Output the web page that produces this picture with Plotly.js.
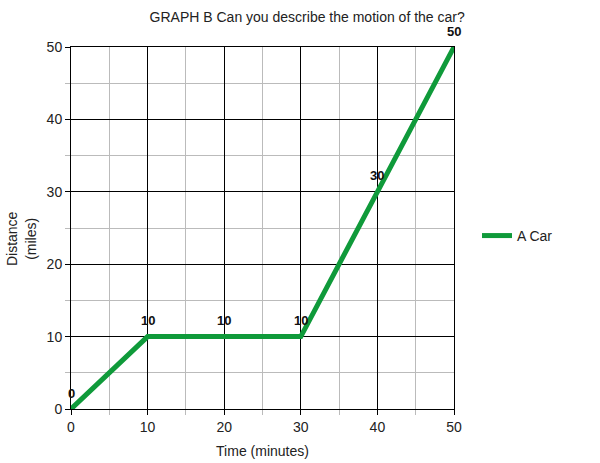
<!DOCTYPE html>
<html>
<head>
<meta charset="utf-8">
<script src="https://cdn.plot.ly/plotly-3.0.1.min.js"></script>
<style>body{margin:0;} #chart{width:600px;height:463px;}</style>
</head>
<body>
<div id="chart"></div>
<script>
// time in minutes and distance in miles for the car
let timeMin = [0, 10, 20, 30, 40, 50];
let distanceMi = [0, 10, 10, 10, 30, 50];
let pointLabels = ["0", "10", "10", "10", "30", "50"];

let fontFam = "Liberation Sans, Arial, sans-serif";

let carTrace = {
    type: "scatter",
    mode: "lines",
    x: timeMin,
    y: distanceMi,
    line: { color: "#0f9a3a", width: 5 },
    name: "A Car"
};

// value labels sit a little above each point
let labelNotes = timeMin.map((t, i) => ({
    x: t,
    y: distanceMi[i],
    text: "<b>" + pointLabels[i] + "</b>",
    showarrow: false,
    yshift: 16,
    font: { size: 13, color: "#111" }
}));

// y axis title placed by hand so it lines up like the original
labelNotes.push({
    xref: "paper", yref: "paper",
    x: -0.13, y: 0.47,
    xanchor: "center", yanchor: "middle",
    text: "Distance<br>(miles)",
    textangle: -90,
    showarrow: false,
    font: { size: 14, color: "#222" }
});

let axisBase = {
    range: [0, 50],
    dtick: 10,
    showgrid: true,
    gridcolor: "#000",
    gridwidth: 1,
    zeroline: false,
    showline: true,
    linecolor: "#000",
    linewidth: 1,
    mirror: true,
    ticks: "outside",
    ticklen: 5,
    tickcolor: "#000",
    tickfont: { size: 14, color: "#222" },
    minor: { dtick: 5, showgrid: true, gridcolor: "#bbb", gridwidth: 1, ticks: "outside", ticklen: 5, tickcolor: "#bbb" },
    fixedrange: true
};

let layout = {
    width: 600,
    height: 463,
    margin: { l: 71, r: 146, t: 47, b: 54 },
    font: { family: fontFam, color: "#222" },
    paper_bgcolor: "#fff",
    plot_bgcolor: "#fff",
    title: {
        text: "GRAPH B Can you describe the motion of the car?",
        font: { size: 14, color: "#222" },
        x: 0.512, xanchor: "center", y: 0.963, yanchor: "middle"
    },
    xaxis: Object.assign({}, axisBase, {
        title: { text: "Time (minutes)", font: { size: 14 }, standoff: 12 }
    }),
    yaxis: Object.assign({}, axisBase),
    annotations: labelNotes,
    showlegend: true,
    legend: {
        x: 1.06, xanchor: "left", y: 0.478, yanchor: "middle",
        font: { size: 14, color: "#222" },
        bgcolor: "rgba(0,0,0,0)"
    }
};

Plotly.newPlot("chart", [carTrace], layout, { displayModeBar: false, staticPlot: true });
</script>
</body>
</html>
